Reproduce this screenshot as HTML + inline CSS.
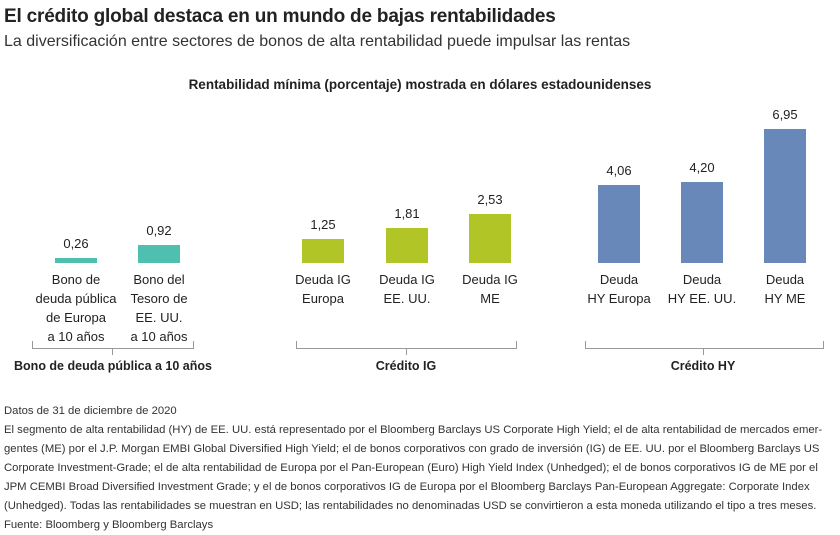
<!DOCTYPE html>
<html><head><meta charset="utf-8"><style>
body{margin:0;width:840px;height:535px;background:#fff;font-family:"Liberation Sans",sans-serif;color:#222;overflow:hidden;position:relative}
.a{position:absolute;white-space:nowrap}
.bar{position:absolute}
.v{position:absolute;width:80px;text-align:center;font-size:13px;color:#222}
.l{position:absolute;width:110px;text-align:center;font-size:13px;line-height:19px;color:#222}
.g{position:absolute;font-size:12.5px;font-weight:bold;text-align:center;width:240px}
.fn{position:absolute;left:4px;top:402px;font-size:11.3px;line-height:19px;color:#333;white-space:nowrap}
</style></head><body>
<div class="a" style="left:4px;top:6px;font-size:19px;font-weight:bold;letter-spacing:-0.2px">El crédito global destaca en un mundo de bajas rentabilidades</div>
<div class="a" style="left:4px;top:33px;font-size:16px;color:#333">La diversificación entre sectores de bonos de alta rentabilidad puede impulsar las rentas</div>
<div class="a" style="left:0;width:840px;text-align:center;top:77px;font-size:13.5px;font-weight:bold">Rentabilidad mínima (porcentaje) mostrada en dólares estadounidenses</div>

<div class="bar" style="left:55px;width:42px;top:258px;height:5px;background:#4fbfaf"></div>
<div class="bar" style="left:138px;width:42px;top:245px;height:18px;background:#4fbfaf"></div>
<div class="bar" style="left:302px;width:42px;top:239px;height:24px;background:#b1c526"></div>
<div class="bar" style="left:386px;width:42px;top:228px;height:35px;background:#b1c526"></div>
<div class="bar" style="left:469px;width:42px;top:214px;height:49px;background:#b1c526"></div>
<div class="bar" style="left:598px;width:42px;top:185px;height:78px;background:#6888b9"></div>
<div class="bar" style="left:681px;width:42px;top:182px;height:81px;background:#6888b9"></div>
<div class="bar" style="left:764px;width:42px;top:129px;height:134px;background:#6888b9"></div>

<div class="v" style="left:36px;top:236px">0,26</div>
<div class="v" style="left:119px;top:223px">0,92</div>
<div class="v" style="left:283px;top:217px">1,25</div>
<div class="v" style="left:367px;top:206px">1,81</div>
<div class="v" style="left:450px;top:192px">2,53</div>
<div class="v" style="left:579px;top:163px">4,06</div>
<div class="v" style="left:662px;top:160px">4,20</div>
<div class="v" style="left:745px;top:107px">6,95</div>

<div class="l" style="left:21px;top:270px">Bono de<br>deuda pública<br>de Europa<br>a 10 años</div>
<div class="l" style="left:104px;top:270px">Bono del<br>Tesoro de<br>EE. UU.<br>a 10 años</div>
<div class="l" style="left:268px;top:270px">Deuda IG<br>Europa</div>
<div class="l" style="left:352px;top:270px">Deuda IG<br>EE. UU.</div>
<div class="l" style="left:435px;top:270px">Deuda IG<br>ME</div>
<div class="l" style="left:564px;top:270px">Deuda<br>HY Europa</div>
<div class="l" style="left:647px;top:270px">Deuda<br>HY EE. UU.</div>
<div class="l" style="left:730px;top:270px">Deuda<br>HY ME</div>

<svg class="a" style="left:0;top:0" width="840" height="400">
<g stroke="#999" stroke-width="1" fill="none">
<path d="M32.5 341V348.5H193.5V341M112.5 348.5V355"/>
<path d="M296.5 341V348.5H516.5V341M406.5 348.5V355"/>
<path d="M585.5 341V348.5H823.5V341M703.5 348.5V355"/>
</g></svg>
<div class="g" style="left:-7px;top:359px">Bono de deuda pública a 10 años</div>
<div class="g" style="left:286px;top:359px">Crédito IG</div>
<div class="g" style="left:583px;top:359px">Crédito HY</div>

<div class="fn">Datos de 31 de diciembre de 2020<br>El segmento de alta rentabilidad (HY) de EE. UU. está representado por el Bloomberg Barclays US Corporate High Yield; el de alta rentabilidad de mercados emer-<br>gentes (ME) por el J.P. Morgan EMBI Global Diversified High Yield; el de bonos corporativos con grado de inversión (IG) de EE. UU. por el Bloomberg Barclays US<br>Corporate Investment-Grade; el de alta rentabilidad de Europa por el Pan-European (Euro) High Yield Index (Unhedged); el de bonos corporativos IG de ME por el<br>JPM CEMBI Broad Diversified Investment Grade; y el de bonos corporativos IG de Europa por el Bloomberg Barclays Pan-European Aggregate: Corporate Index<br>(Unhedged). Todas las rentabilidades se muestran en USD; las rentabilidades no denominadas USD se convirtieron a esta moneda utilizando el tipo a tres meses.<br>Fuente: Bloomberg y Bloomberg Barclays</div>
</body></html>
